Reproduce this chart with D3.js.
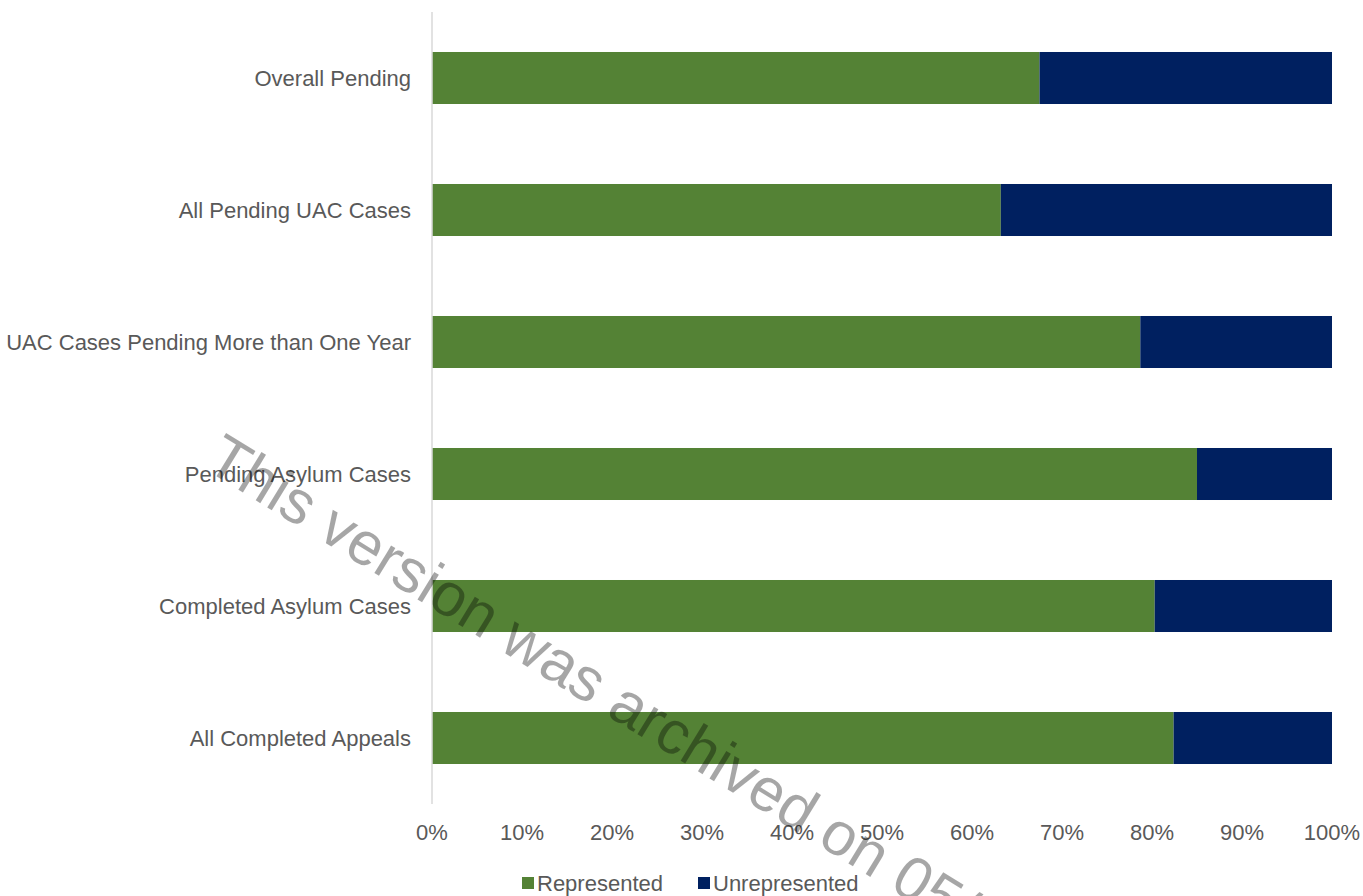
<!DOCTYPE html>
<html><head><meta charset="utf-8">
<script src="https://cdn.jsdelivr.net/npm/d3@7"></script>
<style>
html,body{margin:0;padding:0;background:#fff;}
svg{display:block;}
</style></head>
<body>
<svg id="chart" width="1363" height="896"></svg>
<script>
const categories = ["Overall Pending","All Pending UAC Cases","UAC Cases Pending More than One Year","Pending Asylum Cases","Completed Asylum Cases","All Completed Appeals"];
const represented = [0.675, 0.632, 0.787, 0.850, 0.803, 0.824];
const unrepresented = [0.325, 0.368, 0.213, 0.150, 0.197, 0.176];
const seriesNames = ["Represented","Unrepresented"];
const seriesColors = ["#548235","#002060"];
const tickValues = [0,0.1,0.2,0.3,0.4,0.5,0.6,0.7,0.8,0.9,1.0];
const watermarkText = "This version was archived on 05/0";

const svg = d3.select("#chart");
const font = "'Liberation Sans', Arial, sans-serif";
const margin = {left:432, right:31, top:12, bottom:92};
const W = 1363, H = 896;

const x = d3.scaleLinear().domain([0,1]).range([margin.left, W - margin.right]);
const y = d3.scaleBand().domain(categories).range([margin.top, H - margin.bottom]).paddingInner(0.606).paddingOuter(0.303);

const rows = categories.map((c,i)=>({cat:c, Represented:represented[i], Unrepresented:unrepresented[i]}));
const stack = d3.stack().keys(seriesNames)(rows);

svg.append("g").selectAll("g").data(stack).join("g")
  .attr("fill",(d,i)=>seriesColors[i])
  .selectAll("rect").data(d=>d).join("rect")
  .attr("x",d=>x(d[0]))
  .attr("width",d=>x(d[1])-x(d[0]))
  .attr("y",d=>y(d.data.cat))
  .attr("height",y.bandwidth());

// vertical axis line
svg.append("line").attr("x1",x(0)).attr("x2",x(0)).attr("y1",margin.top).attr("y2",H-margin.bottom)
  .attr("stroke","#d9d9d9").attr("stroke-width",1.5);

// category labels
svg.append("g").selectAll("text").data(categories).join("text")
  .attr("x",x(0)-21).attr("y",d=>y(d)+y.bandwidth()/2)
  .attr("dy","0.35em").attr("text-anchor","end")
  .attr("font-family",font).attr("font-size",22).attr("fill","#595959")
  .text(d=>d);

// x tick labels
const fmt = d3.format(".0%");
svg.append("g").selectAll("text").data(tickValues).join("text")
  .attr("x",d=>x(d)).attr("y",840)
  .attr("text-anchor","middle")
  .attr("font-family",font).attr("font-size",22).attr("fill","#595959")
  .text(d=>fmt(d));

// legend
const legX = [522, 698];
const lg = svg.append("g").selectAll("g").data(seriesNames).join("g")
  .attr("transform",(d,i)=>`translate(${legX[i]},877)`);
lg.append("rect").attr("width",12).attr("height",12).attr("fill",(d,i)=>seriesColors[i]);
lg.append("text").attr("x",15).attr("y",14)
  .attr("font-family",font).attr("font-size",22).attr("fill","#595959").text(d=>d);

// watermark
svg.append("text")
  .attr("transform","translate(203,468) rotate(31.5)")
  .attr("font-family","'Liberation Sans', Arial, sans-serif")
  .attr("font-size",61)
  .attr("fill","#000").attr("fill-opacity",0.35)
  .text(watermarkText);
</script>
</body></html>
